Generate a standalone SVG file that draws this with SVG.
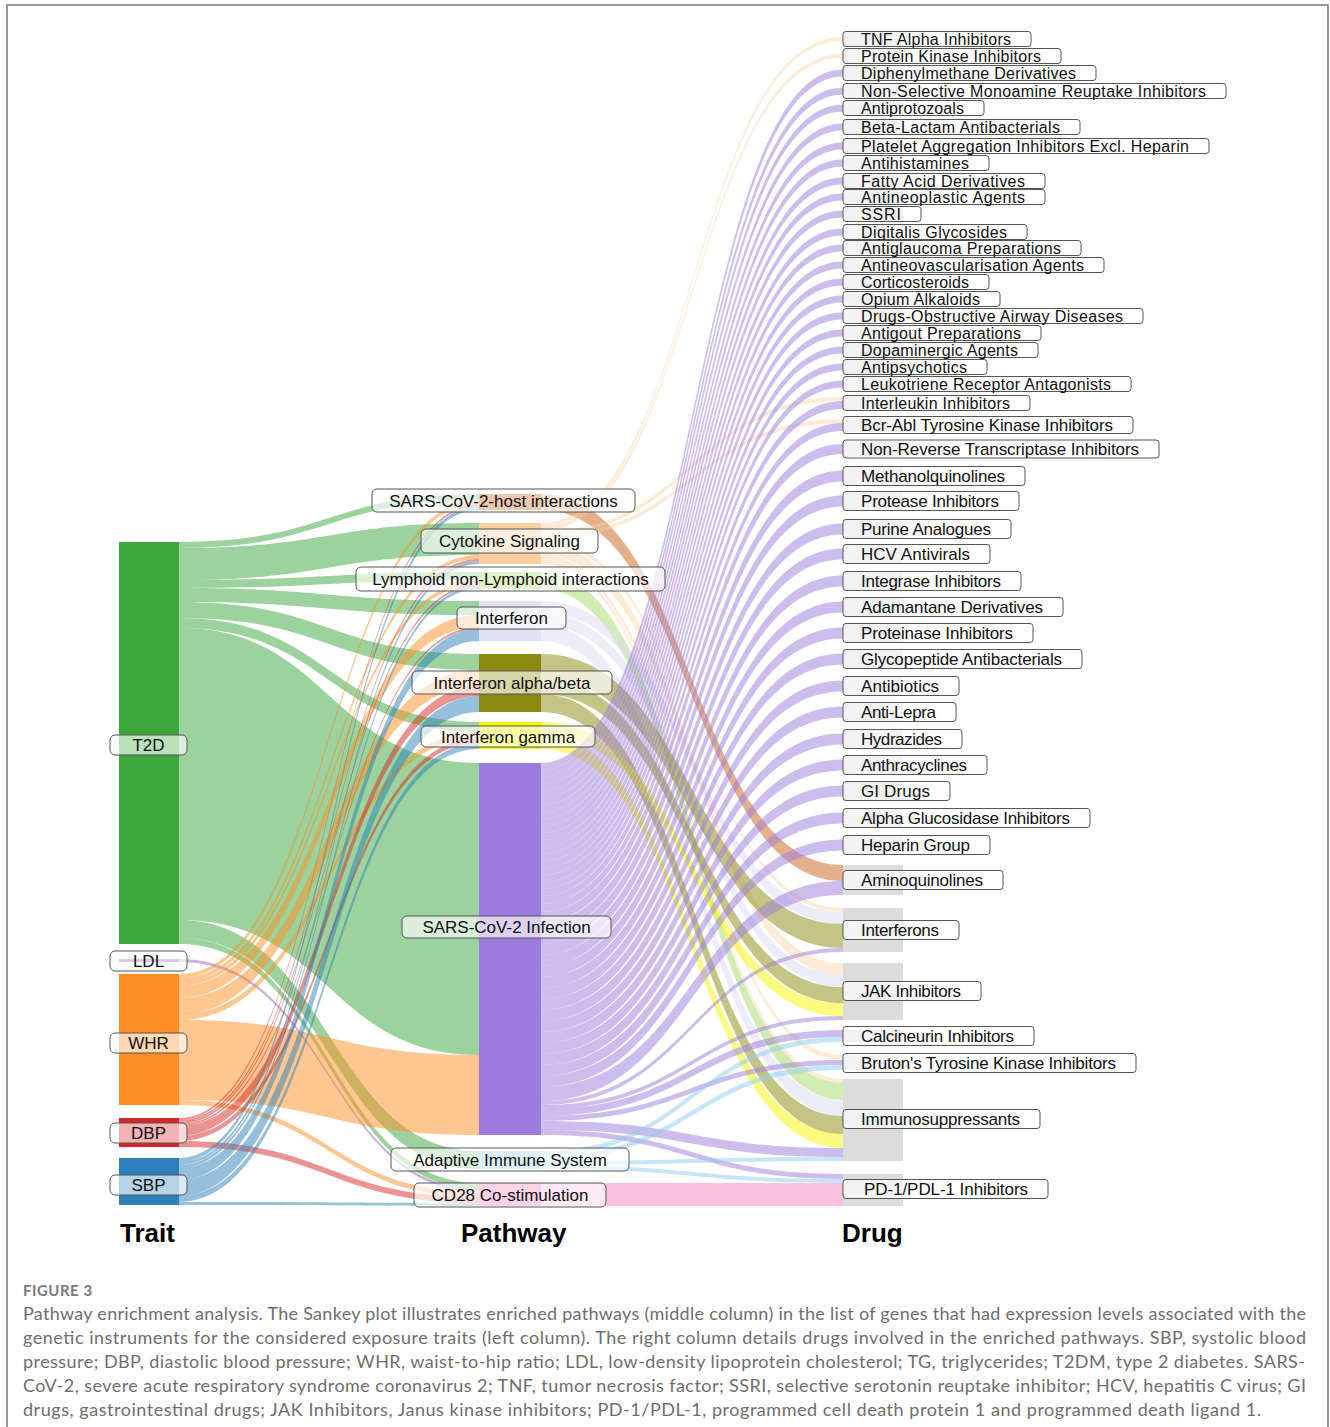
<svg xmlns="http://www.w3.org/2000/svg" width="1330" height="1427" viewBox="0 0 1330 1427">
<style>
.lk{stroke:none;fill-opacity:.5}
.c-t2d{fill:#3aa63b}.c-ldl{fill:#9467bd}.c-whr{fill:#fd8d24}.c-dbp{fill:#d62728}.c-sbp{fill:#2c7fb8}
.c-sh{fill:#c8621a}.c-cs{fill:#fdcf9f;fill-opacity:.42}.c-ly{fill:#a6d96a}.c-if{fill:#dcdcf4}.c-ifab{fill:#8a8a10}.c-ifg{fill:#f5f500}.c-si{fill:#9c7bdc}.c-ai{fill:#8ecdf0}.c-cd{fill:#f77fc1}
.lb{fill:#fff;fill-opacity:.65;stroke:#555;stroke-width:1}
.lt{font-family:"Liberation Sans",Arial,sans-serif;font-size:17px;fill:#111;text-anchor:middle}
.dn{fill:#dcdcdc}
.db{fill:#fff;fill-opacity:.65;stroke:#555;stroke-width:1}
.dt{font-family:"Liberation Sans",Arial,sans-serif;font-size:17px;fill:#111}
.ds{font-family:"Liberation Sans",Arial,sans-serif;font-size:16px;fill:#111}
.ttl{font-family:"Liberation Sans",Arial,sans-serif;font-size:26px;font-weight:bold;fill:#000}
.cap{font-family:Lato,"Open Sans",sans-serif;font-size:18px;fill:#6e6e6e}
</style>
<rect x="0" y="0" width="1330" height="1427" fill="#fff"/>
<path d="M7,1427V5H1328V1427" fill="none" stroke="#777" stroke-width="1.5"/>

<g id="links">
<path class="lk c-t2d" d="M179,542C329,542 329,494 479,494V500C329,500 329,548 179,548Z"/>
<path class="lk c-t2d" d="M179,548C329,548 329,523 479,523V555C329,555 329,580 179,580Z"/>
<path class="lk c-t2d" d="M179,580C329,580 329,572 479,572V580C329,580 329,588 179,588Z"/>
<path class="lk c-t2d" d="M179,588C329,588 329,601 479,601V615C329,615 329,602 179,602Z"/>
<path class="lk c-t2d" d="M179,602C329,602 329,654 479,654V670C329,670 329,618 179,618Z"/>
<path class="lk c-t2d" d="M179,618C329,618 329,722 479,722V732C329,732 329,628 179,628Z"/>
<path class="lk c-t2d" d="M179,628C329,628 329,763 479,763V1055C329,1055 329,920 179,920Z"/>
<path class="lk c-t2d" d="M179,920C329,920 329,1151 479,1151V1169C329,1169 329,938 179,938Z"/>
<path class="lk c-t2d" d="M179,938C329,938 329,1183 479,1183V1189C329,1189 329,944 179,944Z"/>
<path class="lk c-ldl" d="M179,959C329,959 329,1189 479,1189V1192C329,1192 329,962 179,962Z"/>
<path class="lk c-whr" d="M179,974C329,974 329,500 479,500V504C329,504 329,978 179,978Z"/>
<path class="lk c-whr" d="M179,978C329,978 329,555 479,555V559C329,559 329,982 179,982Z"/>
<path class="lk c-whr" d="M179,982C329,982 329,580 479,580V584C329,584 329,986 179,986Z"/>
<path class="lk c-whr" d="M179,986C329,986 329,615 479,615V627C329,627 329,998 179,998Z"/>
<path class="lk c-whr" d="M179,998C329,998 329,670 479,670V686C329,686 329,1014 179,1014Z"/>
<path class="lk c-whr" d="M179,1014C329,1014 329,732 479,732V738C329,738 329,1020 179,1020Z"/>
<path class="lk c-whr" d="M179,1020C329,1020 329,1055 479,1055V1135C329,1135 329,1100 179,1100Z"/>
<path class="lk c-whr" d="M179,1100C329,1100 329,1192 479,1192V1197C329,1197 329,1105 179,1105Z"/>
<path class="lk c-dbp" d="M179,1118C329,1118 329,504 479,504V506C329,506 329,1120 179,1120Z"/>
<path class="lk c-dbp" d="M179,1120C329,1120 329,559 479,559V561C329,561 329,1122 179,1122Z"/>
<path class="lk c-dbp" d="M179,1122C329,1122 329,584 479,584V586C329,586 329,1124 179,1124Z"/>
<path class="lk c-dbp" d="M179,1124C329,1124 329,627 479,627V629C329,629 329,1126 179,1126Z"/>
<path class="lk c-dbp" d="M179,1126C329,1126 329,686 479,686V696C329,696 329,1136 179,1136Z"/>
<path class="lk c-dbp" d="M179,1136C329,1136 329,738 479,738V743C329,743 329,1141 179,1141Z"/>
<path class="lk c-dbp" d="M179,1141C329,1141 329,1197 479,1197V1203C329,1203 329,1147 179,1147Z"/>
<path class="lk c-sbp" d="M179,1158C329,1158 329,506 479,506V510C329,510 329,1162 179,1162Z"/>
<path class="lk c-sbp" d="M179,1162C329,1162 329,561 479,561V564C329,564 329,1165 179,1165Z"/>
<path class="lk c-sbp" d="M179,1165C329,1165 329,586 479,586V589C329,589 329,1168 179,1168Z"/>
<path class="lk c-sbp" d="M179,1168C329,1168 329,629 479,629V641C329,641 329,1180 179,1180Z"/>
<path class="lk c-sbp" d="M179,1180C329,1180 329,696 479,696V712C329,712 329,1196 179,1196Z"/>
<path class="lk c-sbp" d="M179,1196C329,1196 329,743 479,743V749C329,749 329,1202 179,1202Z"/>
<path class="lk c-sbp" d="M179,1202C329,1202 329,1203 479,1203V1206C329,1206 329,1205 179,1205Z"/>

<path class="lk c-sh" d="M541,494C692,494 692,865 843,865V881C692,881 692,510 541,510Z"/>
<path class="lk c-cs" d="M541,523C692,523 692,37 843,37V41C692,41 692,527 541,527Z"/>
<path class="lk c-cs" d="M541,527C692,527 692,54 843,54V58C692,58 692,531 541,531Z"/>
<path class="lk c-cs" d="M541,531C692,531 692,397 843,397V401C692,401 692,535 541,535Z"/>
<path class="lk c-cs" d="M541,535C692,535 692,419 843,419V423C692,423 692,539 541,539Z"/>
<path class="lk c-cs" d="M541,539C692,539 692,908 843,908V912C692,912 692,543 541,543Z"/>
<path class="lk c-cs" d="M541,543C692,543 692,963 843,963V975C692,975 692,555 541,555Z"/>
<path class="lk c-cs" d="M541,555C692,555 692,1055 843,1055V1060C692,1060 692,560 541,560Z"/>
<path class="lk c-cs" d="M541,560C692,560 692,1079 843,1079V1083C692,1083 692,564 541,564Z"/>
<path class="lk c-ly" d="M541,572C692,572 692,1083 843,1083V1100C692,1100 692,589 541,589Z"/>
<path class="lk c-if" d="M541,601C692,601 692,912 843,912V924C692,924 692,613 541,613Z"/>
<path class="lk c-if" d="M541,613C692,613 692,975 843,975V987C692,987 692,625 541,625Z"/>
<path class="lk c-if" d="M541,625C692,625 692,1100 843,1100V1116C692,1116 692,641 541,641Z"/>
<path class="lk c-ifab" d="M541,654C692,654 692,924 843,924V948C692,948 692,678 541,678Z"/>
<path class="lk c-ifab" d="M541,678C692,678 692,987 843,987V1003C692,1003 692,694 541,694Z"/>
<path class="lk c-ifab" d="M541,694C692,694 692,1116 843,1116V1134C692,1134 692,712 541,712Z"/>
<path class="lk c-ifg" d="M541,722C692,722 692,1003 843,1003V1016C692,1016 692,735 541,735Z"/>
<path class="lk c-ifg" d="M541,735C692,735 692,1134 843,1134V1148C692,1148 692,749 541,749Z"/>

<path class="lk c-si" d="M541,763C692,763 692,69.5 843,69.5V76.5C692,76.5 692,770 541,770Z"/>
<path class="lk c-si" d="M541,770C692,770 692,87.5 843,87.5V94.5C692,94.5 692,777 541,777Z"/>
<path class="lk c-si" d="M541,777C692,777 692,104.5 843,104.5V111.5C692,111.5 692,784 541,784Z"/>
<path class="lk c-si" d="M541,784C692,784 692,123.5 843,123.5V130.5C692,130.5 692,791 541,791Z"/>
<path class="lk c-si" d="M541,791C692,791 692,142.5 843,142.5V149.5C692,149.5 692,798 541,798Z"/>
<path class="lk c-si" d="M541,798C692,798 692,159.5 843,159.5V166.5C692,166.5 692,805 541,805Z"/>
<path class="lk c-si" d="M541,805C692,805 692,177.5 843,177.5V184.5C692,184.5 692,812 541,812Z"/>
<path class="lk c-si" d="M541,812C692,812 692,193.5 843,193.5V200.5C692,200.5 692,819 541,819Z"/>
<path class="lk c-si" d="M541,819C692,819 692,210.5 843,210.5V217.5C692,217.5 692,826 541,826Z"/>
<path class="lk c-si" d="M541,826C692,826 692,228.5 843,228.5V235.5C692,235.5 692,833 541,833Z"/>
<path class="lk c-si" d="M541,833C692,833 692,244.5 843,244.5V251.5C692,251.5 692,840 541,840Z"/>
<path class="lk c-si" d="M541,840C692,840 692,261.5 843,261.5V268.5C692,268.5 692,847 541,847Z"/>
<path class="lk c-si" d="M541,847C692,847 692,278.5 843,278.5V285.5C692,285.5 692,854 541,854Z"/>
<path class="lk c-si" d="M541,854C692,854 692,295.5 843,295.5V302.5C692,302.5 692,861 541,861Z"/>
<path class="lk c-si" d="M541,861C692,861 692,312.5 843,312.5V319.5C692,319.5 692,868 541,868Z"/>
<path class="lk c-si" d="M541,868C692,868 692,329.5 843,329.5V336.5C692,336.5 692,875 541,875Z"/>
<path class="lk c-si" d="M541,875C692,875 692,346.5 843,346.5V353.5C692,353.5 692,882 541,882Z"/>
<path class="lk c-si" d="M541,882C692,882 692,363.5 843,363.5V370.5C692,370.5 692,889 541,889Z"/>
<path class="lk c-si" d="M541,889C692,889 692,380.5 843,380.5V387.5C692,387.5 692,896 541,896Z"/>
<path class="lk c-si" d="M541,896C692,896 692,401 843,401V409C692,409 692,904 541,904Z"/>
<path class="lk c-si" d="M541,904C692,904 692,423 843,423V431C692,431 692,912 541,912Z"/>
<path class="lk c-si" d="M541,912C692,912 692,444 843,444V454C692,454 692,922 541,922Z"/>
<path class="lk c-si" d="M541,922C692,922 692,470.5 843,470.5V481.5C692,481.5 692,933 541,933Z"/>
<path class="lk c-si" d="M541,933C692,933 692,495.5 843,495.5V506.5C692,506.5 692,944 541,944Z"/>
<path class="lk c-si" d="M541,944C692,944 692,523.5 843,523.5V534.5C692,534.5 692,955 541,955Z"/>
<path class="lk c-si" d="M541,955C692,955 692,548.5 843,548.5V559.5C692,559.5 692,966 541,966Z"/>
<path class="lk c-si" d="M541,966C692,966 692,575.5 843,575.5V586.5C692,586.5 692,977 541,977Z"/>
<path class="lk c-si" d="M541,977C692,977 692,601.5 843,601.5V612.5C692,612.5 692,988 541,988Z"/>
<path class="lk c-si" d="M541,988C692,988 692,627.5 843,627.5V638.5C692,638.5 692,999 541,999Z"/>
<path class="lk c-si" d="M541,999C692,999 692,653.5 843,653.5V664.5C692,664.5 692,1010 541,1010Z"/>
<path class="lk c-si" d="M541,1010C692,1010 692,680.5 843,680.5V691.5C692,691.5 692,1021 541,1021Z"/>
<path class="lk c-si" d="M541,1021C692,1021 692,706.5 843,706.5V717.5C692,717.5 692,1032 541,1032Z"/>
<path class="lk c-si" d="M541,1032C692,1032 692,733.5 843,733.5V744.5C692,744.5 692,1043 541,1043Z"/>
<path class="lk c-si" d="M541,1043C692,1043 692,759.5 843,759.5V770.5C692,770.5 692,1054 541,1054Z"/>
<path class="lk c-si" d="M541,1054C692,1054 692,785.5 843,785.5V796.5C692,796.5 692,1065 541,1065Z"/>
<path class="lk c-si" d="M541,1065C692,1065 692,812.5 843,812.5V823.5C692,823.5 692,1076 541,1076Z"/>
<path class="lk c-si" d="M541,1076C692,1076 692,839.5 843,839.5V850.5C692,850.5 692,1087 541,1087Z"/>
<path class="lk c-si" d="M541,1087C692,1087 692,881 843,881V895C692,895 692,1101 541,1101Z"/>
<path class="lk c-si" d="M541,1101C692,1101 692,948 843,948V952C692,952 692,1105 541,1105Z"/>
<path class="lk c-si" d="M541,1105C692,1105 692,1016 843,1016V1020C692,1020 692,1109 541,1109Z"/>
<path class="lk c-si" d="M541,1109C692,1109 692,1030 843,1030V1037C692,1037 692,1116 541,1116Z"/>
<path class="lk c-si" d="M541,1116C692,1116 692,1060 843,1060V1065C692,1065 692,1121 541,1121Z"/>
<path class="lk c-si" d="M541,1121C692,1121 692,1148 843,1148V1157C692,1157 692,1130 541,1130Z"/>
<path class="lk c-si" d="M541,1130C692,1130 692,1174 843,1174V1179C692,1179 692,1135 541,1135Z"/>

<path class="lk c-ai" d="M541,1151C692,1151 692,1037 843,1037V1042C692,1042 692,1156 541,1156Z"/>
<path class="lk c-ai" d="M541,1156C692,1156 692,1065 843,1065V1070C692,1070 692,1161 541,1161Z"/>
<path class="lk c-ai" d="M541,1161C692,1161 692,1157 843,1157V1161C692,1161 692,1165 541,1165Z"/>
<path class="lk c-ai" d="M541,1165C692,1165 692,1179 843,1179V1183C692,1183 692,1169 541,1169Z"/>
<path class="lk c-cd" d="M541,1183H843V1206H541Z"/>
</g>

<g id="node-t2d"><rect x="119" y="542" width="60" height="402" fill="#3da63d"/><rect class="lb" x="110" y="735" width="77" height="20" rx="5"/><text class="lt" x="148.5" y="751">T2D</text></g>
<g id="node-ldl"><rect x="119" y="959" width="60" height="3" fill="#9467bd"/><rect class="lb" x="110" y="951" width="77" height="20" rx="5"/><text class="lt" x="148.5" y="967">LDL</text></g>
<g id="node-whr"><rect x="119" y="974" width="60" height="131" fill="#fd8d24"/><rect class="lb" x="110" y="1033" width="77" height="20" rx="5"/><text class="lt" x="148.5" y="1049">WHR</text></g>
<g id="node-dbp"><rect x="119" y="1118" width="60" height="29" fill="#d62728"/><rect class="lb" x="110" y="1123" width="77" height="20" rx="5"/><text class="lt" x="148.5" y="1139">DBP</text></g>
<g id="node-sbp"><rect x="119" y="1158" width="60" height="47" fill="#2c7fb8"/><rect class="lb" x="110" y="1175" width="77" height="20" rx="5"/><text class="lt" x="148.5" y="1191">SBP</text></g>

<g id="node-sars-host"><rect x="479" y="494" width="62" height="16" fill="#c8621a"/><rect class="lb" x="372" y="489" width="263" height="23" rx="5"/><text class="lt" x="503.5" y="506.5">SARS-CoV-2-host interactions</text></g>
<g id="node-cytokine"><rect x="479" y="523" width="62" height="41" fill="#fdcf9f"/><rect class="lb" x="421" y="529" width="177" height="24" rx="5"/><text class="lt" x="509.5" y="547">Cytokine Signaling</text></g>
<g id="node-lymphoid"><rect x="479" y="572" width="62" height="17" fill="#a6d96a"/><rect class="lb" x="356" y="567" width="309" height="24" rx="5"/><text class="lt" x="510.5" y="585">Lymphoid non-Lymphoid interactions</text></g>
<g id="node-interferon"><rect x="479" y="601" width="62" height="40" fill="#e1e1f6"/><rect class="lb" x="457" y="607" width="109" height="22" rx="5"/><text class="lt" x="511.5" y="624">Interferon</text></g>
<g id="node-ifab"><rect x="479" y="654" width="62" height="58" fill="#8a8a10"/><rect class="lb" x="412" y="671" width="200" height="23" rx="5"/><text class="lt" x="512" y="688.5">Interferon alpha/beta</text></g>
<g id="node-ifg"><rect x="479" y="722" width="62" height="27" fill="#f5f500"/><rect class="lb" x="421" y="726" width="174" height="21" rx="5"/><text class="lt" x="508" y="742.5">Interferon gamma</text></g>
<g id="node-sars-infection"><rect x="479" y="763" width="62" height="372" fill="#9c7bdc"/><rect class="lb" x="402" y="916" width="209" height="22" rx="5"/><text class="lt" x="506.5" y="933">SARS-CoV-2 Infection</text></g>
<g id="node-adaptive"><rect x="479" y="1151" width="62" height="18" fill="#9ed6f5"/><rect class="lb" x="391" y="1148" width="238" height="23" rx="5"/><text class="lt" x="510" y="1165.5">Adaptive Immune System</text></g>
<g id="node-cd28"><rect x="479" y="1183" width="62" height="23" fill="#f77fc1"/><rect class="lb" x="414" y="1183" width="192" height="24" rx="5"/><text class="lt" x="510" y="1201">CD28 Co-stimulation</text></g>

<g id="drug-tnf"><rect class="dn" x="843" y="32" width="60" height="14"/><rect class="db" x="843" y="31.5" width="188" height="15" rx="3"/><text class="ds" x="861" y="44.5" textLength="150">TNF Alpha Inhibitors</text></g>
<g id="drug-pki"><rect class="dn" x="843" y="49" width="60" height="14"/><rect class="db" x="843" y="48.5" width="218" height="15" rx="3"/><text class="ds" x="861" y="61.5" textLength="180">Protein Kinase Inhibitors</text></g>
<g id="drug-diphenylmethane"><rect class="dn" x="843" y="66" width="60" height="14"/><rect class="db" x="843" y="65.5" width="253" height="15" rx="3"/><text class="ds" x="861" y="78.5" textLength="215">Diphenylmethane Derivatives</text></g>
<g id="drug-nsmri"><rect class="dn" x="843" y="84" width="60" height="14"/><rect class="db" x="843" y="83.5" width="383" height="15" rx="3"/><text class="ds" x="861" y="96.5" textLength="345">Non-Selective Monoamine Reuptake Inhibitors</text></g>
<g id="drug-antiprotozoals"><rect class="dn" x="843" y="101" width="60" height="14"/><rect class="db" x="843" y="100.5" width="141" height="15" rx="3"/><text class="ds" x="861" y="113.5" textLength="103">Antiprotozoals</text></g>
<g id="drug-betalactam"><rect class="dn" x="843" y="120" width="60" height="14"/><rect class="db" x="843" y="119.5" width="237" height="15" rx="3"/><text class="ds" x="861" y="132.5" textLength="199">Beta-Lactam Antibacterials</text></g>
<g id="drug-platelet"><rect class="dn" x="843" y="139" width="60" height="14"/><rect class="db" x="843" y="138.5" width="366" height="15" rx="3"/><text class="ds" x="861" y="151.5" textLength="328">Platelet Aggregation Inhibitors Excl. Heparin</text></g>
<g id="drug-antihistamines"><rect class="dn" x="843" y="156" width="60" height="14"/><rect class="db" x="843" y="155.5" width="146" height="15" rx="3"/><text class="ds" x="861" y="168.5" textLength="108">Antihistamines</text></g>
<g id="drug-fattyacid"><rect class="dn" x="843" y="174" width="60" height="14"/><rect class="db" x="843" y="173.5" width="202" height="15" rx="3"/><text class="ds" x="861" y="186.5" textLength="164">Fatty Acid Derivatives</text></g>
<g id="drug-antineoplastic"><rect class="dn" x="843" y="190" width="60" height="14"/><rect class="db" x="843" y="189.5" width="202" height="15" rx="3"/><text class="ds" x="861" y="202.5" textLength="164">Antineoplastic Agents</text></g>
<g id="drug-ssri"><rect class="dn" x="843" y="207" width="60" height="14"/><rect class="db" x="843" y="206.5" width="78" height="15" rx="3"/><text class="ds" x="861" y="219.5" textLength="40">SSRI</text></g>
<g id="drug-digitalis"><rect class="dn" x="843" y="225" width="60" height="14"/><rect class="db" x="843" y="224.5" width="184" height="15" rx="3"/><text class="ds" x="861" y="237.5" textLength="146">Digitalis Glycosides</text></g>
<g id="drug-antiglaucoma"><rect class="dn" x="843" y="241" width="60" height="14"/><rect class="db" x="843" y="240.5" width="238" height="15" rx="3"/><text class="ds" x="861" y="253.5" textLength="200">Antiglaucoma Preparations</text></g>
<g id="drug-antineovasc"><rect class="dn" x="843" y="258" width="60" height="14"/><rect class="db" x="843" y="257.5" width="261" height="15" rx="3"/><text class="ds" x="861" y="270.5" textLength="223">Antineovascularisation Agents</text></g>
<g id="drug-corticosteroids"><rect class="dn" x="843" y="275" width="60" height="14"/><rect class="db" x="843" y="274.5" width="146" height="15" rx="3"/><text class="ds" x="861" y="287.5" textLength="108">Corticosteroids</text></g>
<g id="drug-opium"><rect class="dn" x="843" y="292" width="60" height="14"/><rect class="db" x="843" y="291.5" width="157" height="15" rx="3"/><text class="ds" x="861" y="304.5" textLength="119">Opium Alkaloids</text></g>
<g id="drug-obstructive"><rect class="dn" x="843" y="309" width="60" height="14"/><rect class="db" x="843" y="308.5" width="300" height="15" rx="3"/><text class="ds" x="861" y="321.5" textLength="262">Drugs-Obstructive Airway Diseases</text></g>
<g id="drug-antigout"><rect class="dn" x="843" y="326" width="60" height="14"/><rect class="db" x="843" y="325.5" width="198" height="15" rx="3"/><text class="ds" x="861" y="338.5" textLength="160">Antigout Preparations</text></g>
<g id="drug-dopaminergic"><rect class="dn" x="843" y="343" width="60" height="14"/><rect class="db" x="843" y="342.5" width="195" height="15" rx="3"/><text class="ds" x="861" y="355.5" textLength="157">Dopaminergic Agents</text></g>
<g id="drug-antipsychotics"><rect class="dn" x="843" y="360" width="60" height="14"/><rect class="db" x="843" y="359.5" width="144" height="15" rx="3"/><text class="ds" x="861" y="372.5" textLength="106">Antipsychotics</text></g>
<g id="drug-leukotriene"><rect class="dn" x="843" y="377" width="60" height="14"/><rect class="db" x="843" y="376.5" width="288" height="15" rx="3"/><text class="ds" x="861" y="389.5" textLength="250">Leukotriene Receptor Antagonists</text></g>
<g id="drug-interleukin"><rect class="dn" x="843" y="396" width="60" height="14"/><rect class="db" x="843" y="395.5" width="187" height="15" rx="3"/><text class="ds" x="861" y="408.5" textLength="149">Interleukin Inhibitors</text></g>
<g id="drug-bcrabl"><rect class="dn" x="843" y="418" width="60" height="14"/><rect class="db" x="843" y="416.5" width="290" height="17" rx="3"/><text class="dt" x="861" y="431" textLength="252">Bcr-Abl Tyrosine Kinase Inhibitors</text></g>
<g id="drug-nrti"><rect class="dn" x="843" y="441" width="60" height="16"/><rect class="db" x="843" y="440" width="316" height="18" rx="3"/><text class="dt" x="861" y="455" textLength="278">Non-Reverse Transcriptase Inhibitors</text></g>
<g id="drug-methanolquinolines"><rect class="dn" x="843" y="467" width="60" height="18"/><rect class="db" x="843" y="466.5" width="182" height="19" rx="3"/><text class="dt" x="861" y="482" textLength="144">Methanolquinolines</text></g>
<g id="drug-protease"><rect class="dn" x="843" y="492" width="60" height="18"/><rect class="db" x="843" y="491.5" width="176" height="19" rx="3"/><text class="dt" x="861" y="507" textLength="138">Protease Inhibitors</text></g>
<g id="drug-purine"><rect class="dn" x="843" y="520" width="60" height="18"/><rect class="db" x="843" y="519.5" width="168" height="19" rx="3"/><text class="dt" x="861" y="535" textLength="130">Purine Analogues</text></g>
<g id="drug-hcv"><rect class="dn" x="843" y="545" width="60" height="18"/><rect class="db" x="843" y="544.5" width="147" height="19" rx="3"/><text class="dt" x="861" y="560" textLength="109">HCV Antivirals</text></g>
<g id="drug-integrase"><rect class="dn" x="843" y="572" width="60" height="18"/><rect class="db" x="843" y="571.5" width="178" height="19" rx="3"/><text class="dt" x="861" y="587" textLength="140">Integrase Inhibitors</text></g>
<g id="drug-adamantane"><rect class="dn" x="843" y="598" width="60" height="18"/><rect class="db" x="843" y="597.5" width="220" height="19" rx="3"/><text class="dt" x="861" y="613" textLength="182">Adamantane Derivatives</text></g>
<g id="drug-proteinase"><rect class="dn" x="843" y="624" width="60" height="18"/><rect class="db" x="843" y="623.5" width="190" height="19" rx="3"/><text class="dt" x="861" y="639" textLength="152">Proteinase Inhibitors</text></g>
<g id="drug-glycopeptide"><rect class="dn" x="843" y="650" width="60" height="18"/><rect class="db" x="843" y="649.5" width="239" height="19" rx="3"/><text class="dt" x="861" y="665" textLength="201">Glycopeptide Antibacterials</text></g>
<g id="drug-antibiotics"><rect class="dn" x="843" y="677" width="60" height="18"/><rect class="db" x="843" y="676.5" width="116" height="19" rx="3"/><text class="dt" x="861" y="692" textLength="78">Antibiotics</text></g>
<g id="drug-antilepra"><rect class="dn" x="843" y="703" width="60" height="18"/><rect class="db" x="843" y="702.5" width="113" height="19" rx="3"/><text class="dt" x="861" y="718" textLength="75">Anti-Lepra</text></g>
<g id="drug-hydrazides"><rect class="dn" x="843" y="730" width="60" height="18"/><rect class="db" x="843" y="729.5" width="119" height="19" rx="3"/><text class="dt" x="861" y="745" textLength="81">Hydrazides</text></g>
<g id="drug-anthracyclines"><rect class="dn" x="843" y="756" width="60" height="18"/><rect class="db" x="843" y="755.5" width="144" height="19" rx="3"/><text class="dt" x="861" y="771" textLength="106">Anthracyclines</text></g>
<g id="drug-gi"><rect class="dn" x="843" y="782" width="60" height="18"/><rect class="db" x="843" y="781.5" width="107" height="19" rx="3"/><text class="dt" x="861" y="797" textLength="69">GI Drugs</text></g>
<g id="drug-alphaglucosidase"><rect class="dn" x="843" y="809" width="60" height="18"/><rect class="db" x="843" y="808.5" width="247" height="19" rx="3"/><text class="dt" x="861" y="824" textLength="209">Alpha Glucosidase Inhibitors</text></g>
<g id="drug-heparin"><rect class="dn" x="843" y="836" width="60" height="18"/><rect class="db" x="843" y="835.5" width="147" height="19" rx="3"/><text class="dt" x="861" y="851" textLength="109">Heparin Group</text></g>
<g id="drug-aminoquinolines"><rect class="dn" x="843" y="865" width="60" height="30"/><rect class="db" x="843" y="870.5" width="160" height="19" rx="3"/><text class="dt" x="861" y="886" textLength="122">Aminoquinolines</text></g>
<g id="drug-interferons"><rect class="dn" x="843" y="908" width="60" height="44"/><rect class="db" x="843" y="920.5" width="116" height="19" rx="3"/><text class="dt" x="861" y="936" textLength="78">Interferons</text></g>
<g id="drug-jak"><rect class="dn" x="843" y="963" width="60" height="57"/><rect class="db" x="843" y="981.5" width="138" height="19" rx="3"/><text class="dt" x="861" y="997" textLength="100">JAK Inhibitors</text></g>
<g id="drug-calcineurin"><rect class="dn" x="843" y="1030" width="60" height="12"/><rect class="db" x="843" y="1026.5" width="191" height="19" rx="3"/><text class="dt" x="861" y="1042" textLength="153">Calcineurin Inhibitors</text></g>
<g id="drug-bruton"><rect class="dn" x="843" y="1055" width="60" height="15"/><rect class="db" x="843" y="1053.5" width="293" height="19" rx="3"/><text class="dt" x="861" y="1069" textLength="255">Bruton's Tyrosine Kinase Inhibitors</text></g>
<g id="drug-immunosuppressants"><rect class="dn" x="843" y="1079" width="60" height="82"/><rect class="db" x="843" y="1109.5" width="197" height="19" rx="3"/><text class="dt" x="861" y="1125" textLength="159">Immunosuppressants</text></g>
<g id="drug-pd1"><rect class="dn" x="843" y="1174" width="60" height="32"/><rect class="db" x="843" y="1179.5" width="205" height="19" rx="3"/><text class="dt" x="864" y="1195" textLength="164">PD-1/PDL-1 Inhibitors</text></g>

<g id="titles">
<text class="ttl" x="120" y="1242">Trait</text>
<text class="ttl" x="461" y="1242">Pathway</text>
<text class="ttl" x="842" y="1242">Drug</text>
</g>

<g id="caption">
<text x="23" y="1296" font-family="Lato,'Open Sans',sans-serif" font-size="15" font-weight="bold" fill="#7a7a7a" letter-spacing="0.5">FIGURE 3</text>
<text class="cap" x="23" y="1320" textLength="1283">Pathway enrichment analysis. The Sankey plot illustrates enriched pathways (middle column) in the list of genes that had expression levels associated with the</text>
<text class="cap" x="23" y="1344" textLength="1283">genetic instruments for the considered exposure traits (left column). The right column details drugs involved in the enriched pathways. SBP, systolic blood</text>
<text class="cap" x="23" y="1368" textLength="1282">pressure; DBP, diastolic blood pressure; WHR, waist-to-hip ratio; LDL, low-density lipoprotein cholesterol; TG, triglycerides; T2DM, type 2 diabetes. SARS-</text>
<text class="cap" x="23" y="1392" textLength="1283">CoV-2, severe acute respiratory syndrome coronavirus 2; TNF, tumor necrosis factor; SSRI, selective serotonin reuptake inhibitor; HCV, hepatitis C virus; GI</text>
<text class="cap" x="23" y="1416" textLength="1238">drugs, gastrointestinal drugs; JAK Inhibitors, Janus kinase inhibitors; PD-1/PDL-1, programmed cell death protein 1 and programmed death ligand 1.</text>
</g>
</svg>
